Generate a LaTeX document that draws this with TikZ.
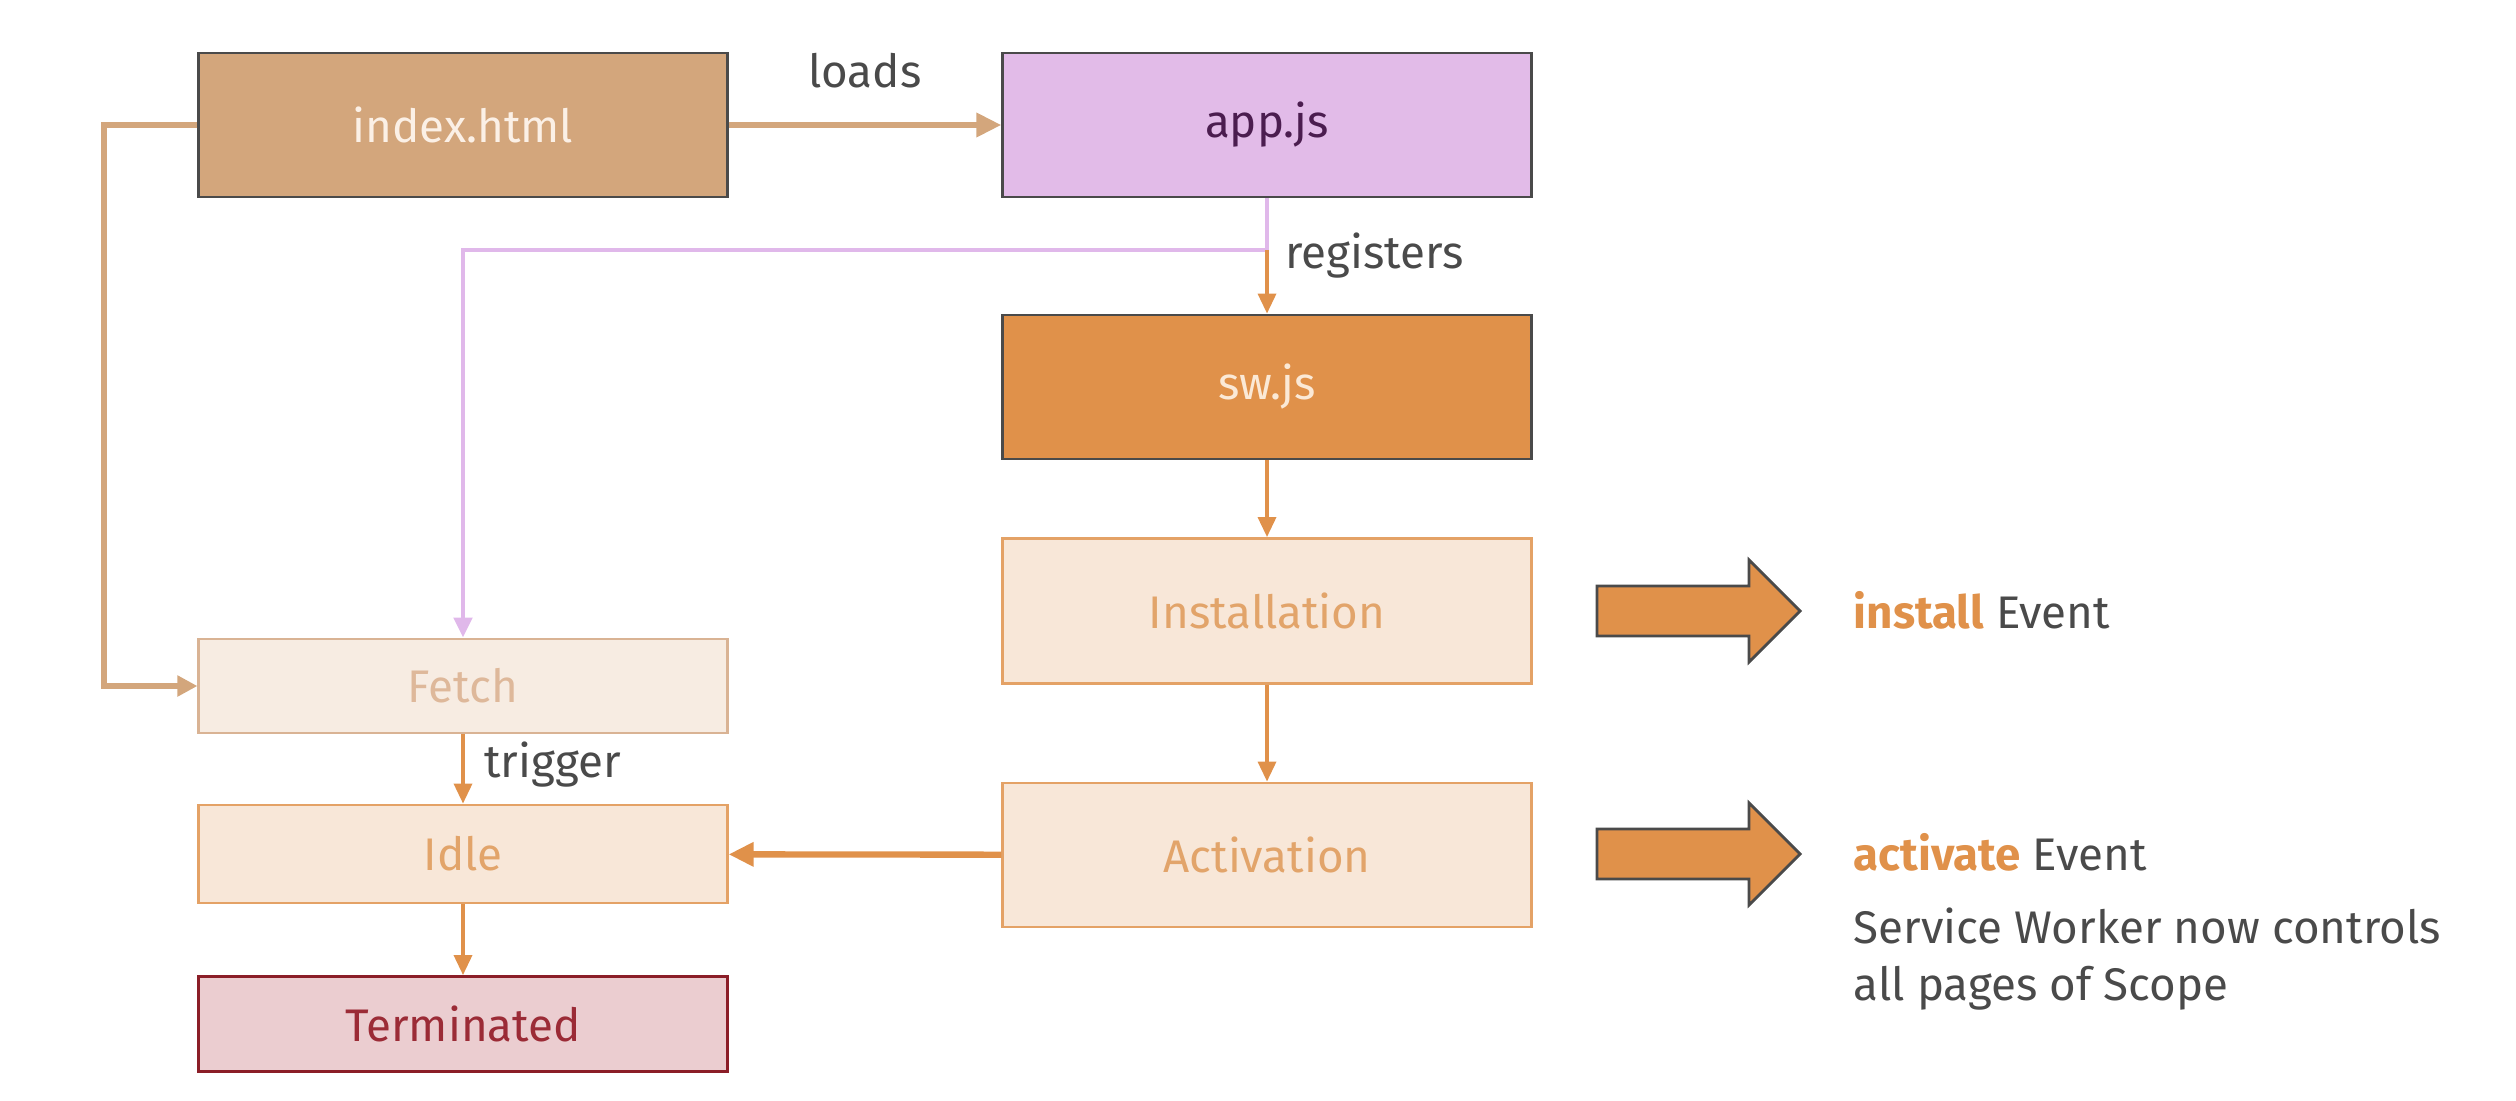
\documentclass[tikz,border=0pt]{standalone}
\usepackage{fontspec}
\setmainfont{Fira Sans}
\usetikzlibrary{positioning, arrows.meta}
\usepackage{xcolor}
\definecolor{htmltan}{HTML}{D3A67C}
\definecolor{htmltext}{HTML}{FBF0E6}
\definecolor{applav}{HTML}{E2BBE8}
\definecolor{apptext}{HTML}{4B1D4F}
\definecolor{lavline}{HTML}{E0B8EA}
\definecolor{sworange}{HTML}{E0914A}
\definecolor{swtext}{HTML}{FBE9D6}
\definecolor{boxgray}{HTML}{4A4A4A}
\definecolor{lifefill}{HTML}{F8E7D8}
\definecolor{lifeline}{HTML}{E4A266}
\definecolor{lifetext}{HTML}{E2A46A}
\definecolor{fetchfill}{HTML}{F7ECE2}
\definecolor{fetchline}{HTML}{D9B394}
\definecolor{fetchtext}{HTML}{DEB89A}
\definecolor{termfill}{HTML}{EBCDD0}
\definecolor{termline}{HTML}{8B1E28}
\definecolor{termtext}{HTML}{9B2B36}
\definecolor{labelgray}{HTML}{4A4A4A}
\tikzset{
	>={Triangle[length=2mm,width=1.8mm]},
	every node/.style={font=\fontsize{13}{16.2}\selectfont},
	filebox/.style={draw=boxgray, rectangle, line width=0.8pt,
		minimum width=5.28cm, minimum height=1.44cm},
	lifebox/.style={draw=lifeline, fill=lifefill, text=lifetext, rectangle,
		line width=0.8pt, minimum width=5.28cm},
	flow/.style={->, draw=sworange, line width=1pt},
	bigflow/.style={draw=sworange, line width=1.8pt,
		-{Triangle[length=2.5mm,width=2.3mm]}},
	edgelabel/.style={text=labelgray},
	blockarrow/.style={draw=boxgray, fill=sworange, line width=0.8pt, line join=miter}}

\begin{document}
\begin{tikzpicture}[x=0.01cm, y=-0.01cm]
		\useasboundingbox (0,0) rectangle (2516,1100);
		
		% files
		\node[filebox, fill=htmltan, text=htmltext] (index) at (463,125) {index.html};
		\node[filebox, fill=applav, text=apptext] (app) at (1267,125) {app.js};
		\node[filebox, fill=sworange, text=swtext] (sw) at (1267,387) {sw.js};
		
		% lifecycle
		\node[lifebox, minimum height=1.45cm] (install) at (1267,611) {Installation};
		\node[lifebox, minimum height=1.44cm] (activate) at (1267,855) {Activation};
		\node[lifebox, draw=fetchline, fill=fetchfill, text=fetchtext,
			minimum height=0.94cm] (fetch) at (463,686) {Fetch};
		\node[lifebox, minimum height=0.98cm] (idle) at (463,854) {Idle};
		\node[lifebox, draw=termline, fill=termfill, text=termtext,
			minimum height=0.95cm] (term) at (463,1024) {Terminated};
		
		\coordinate (junc) at (1267,250);
		\coordinate (htmlleft) at (104,125);
		
		\draw[draw=htmltan, line width=1.8pt, -{Triangle[length=2.5mm,width=2.3mm]}]
			(index) -- node[edgelabel, above=0.22cm]{loads} (app);
		\draw[draw=htmltan, line width=1.5pt, -{Triangle[length=2mm,width=2mm]}]
			(index.west) -- (htmlleft) |- (fetch.west);
		\draw[draw=lavline, line width=1.4pt] (app.south) -- (junc);
		\draw[draw=lavline, line width=1.4pt, -{Triangle[length=2mm,width=1.8mm]}]
			(junc) -| (fetch.north);
		\draw[flow] (junc) -- node[edgelabel, pos=0.08, right, xshift=0.05cm]{registers} (sw);
		\draw[flow] (sw) -- (install);
		\draw[flow] (install) -- (activate);
		\draw[bigflow] (activate) -- (idle);
		\draw[flow] (fetch) -- node[edgelabel, pos=0.43, right, xshift=0.08cm]{trigger} (idle);
		\draw[flow] (idle) -- (term);
		
		% events
		\draw[blockarrow] (1597,586) -- ++(152,0) -- ++(0,-26) -- ++(51,51)
			-- ++(-51,51) -- ++(0,-26) -- ++(-152,0) -- cycle;
		\draw[blockarrow] (1597,829) -- ++(152,0) -- ++(0,-26) -- ++(51,51)
			-- ++(-51,51) -- ++(0,-26) -- ++(-152,0) -- cycle;
		\node[anchor=west, inner sep=0pt, text=labelgray] (installevt) at (1853,610)
			{\textcolor{sworange}{\textbf{install}} Event};
		\node[anchor=west, inner sep=0pt, text=labelgray] (activateevt) at (1853,852)
			{\textcolor{sworange}{\textbf{activate}} Event};
		\node[anchor=west, inner sep=0pt, text=labelgray, align=left] (scopetxt) at (1853,959)
			{Service Worker now controls\\all pages of Scope};
	\end{tikzpicture}
\end{document}
